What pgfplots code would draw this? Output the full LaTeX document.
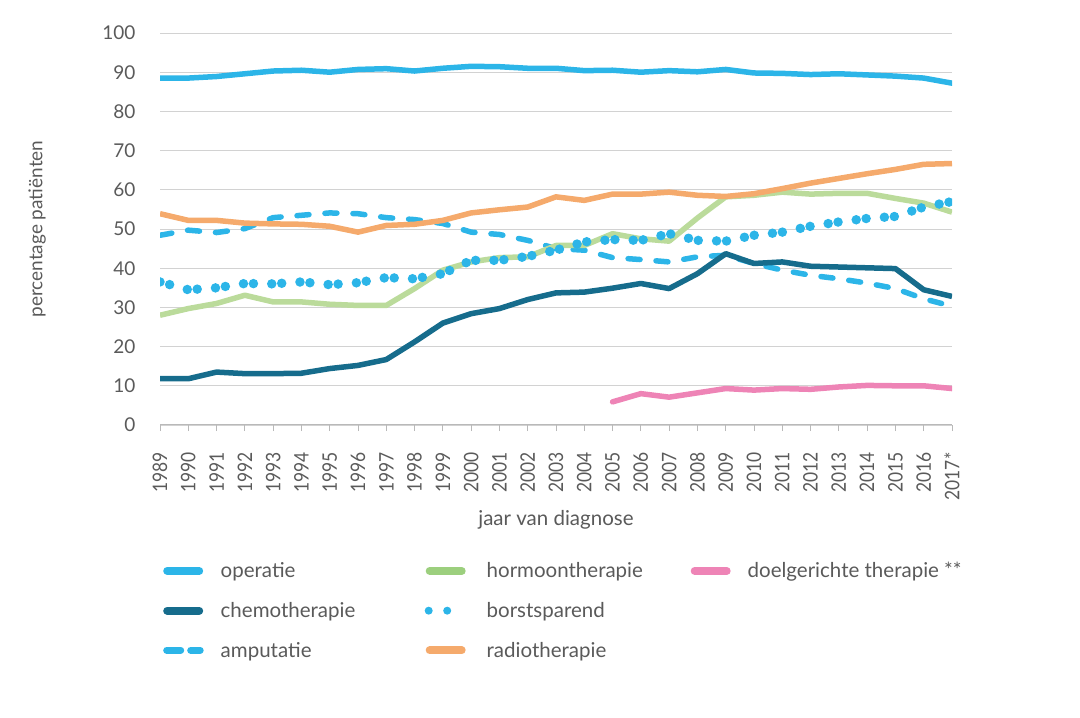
\documentclass[border=0pt]{standalone}
\usepackage{fontspec}
\setmainfont{Lato}
\usepackage{graphicx}
\usepackage{pgfplots}
\pgfplotsset{compat=1.18}
\definecolor{opblue}{HTML}{2CB5E8}
\definecolor{chemo}{HTML}{166C8C}
\definecolor{hormo}{HTML}{BBDB9B}
\definecolor{hormoleg}{HTML}{9CCF7E}
\definecolor{radio}{HTML}{F5AA6C}
\definecolor{doel}{HTML}{EE84B6}
\definecolor{txt}{HTML}{5A5A5A}
\newcommand{\lent}[1]{\makebox[221pt][l]{\hspace{17pt}#1}}
\newcommand{\xt}[1]{\scalebox{0.87}[1]{#1}\hspace*{18pt}}
\begin{document}
\begin{tikzpicture}
\useasboundingbox (0,0) rectangle (1080pt,718pt);
\begin{axis}[
  at={(160pt,293pt)}, anchor=south west,
  scale only axis, width=792pt, height=392pt,
  xmin=1989, xmax=2017, ymin=0, ymax=100,
  xtick={1989,...,2017},
  xticklabels={\xt{1989},\xt{1990},\xt{1991},\xt{1992},\xt{1993},\xt{1994},\xt{1995},\xt{1996},\xt{1997},\xt{1998},\xt{1999},\xt{2000},\xt{2001},\xt{2002},\xt{2003},\xt{2004},\xt{2005},\xt{2006},\xt{2007},\xt{2008},\xt{2009},\xt{2010},\xt{2011},\xt{2012},\xt{2013},\xt{2014},\xt{2015},\xt{2016},\xt{2017*}},
  ytick={0,10,...,100},
  /pgf/number format/assume math mode=true,
  axis x line*=bottom, axis y line*=left,
  y axis line style={draw=none},
  ytick style={draw=none},
  x axis line style={draw=gray!55, line width=1pt},
  xtick style={draw=gray!55, line width=0.8pt},
  xtick align=outside, major tick length=6pt,
  ymajorgrids,
  major grid style={draw=gray!35, line width=0.9pt},
  xticklabel style={font=\fontsize{20}{22}\selectfont, text=txt, rotate=90, anchor=east},
  yticklabel style={font=\fontsize{19}{22}\selectfont, text=txt, xshift=-21pt},
  xlabel={jaar van diagnose},
  ylabel={percentage patiënten},
  xlabel style={font=\fontsize{20.5}{24}\selectfont, text=txt, at={(axis description cs:0.5,-0.243)}, anchor=center},
  ylabel style={font=\fontsize{19}{22}\selectfont, text=txt, at={(axis description cs:-0.155,0.5)}, anchor=center, rotate=0},
  legend columns=3,
  legend cell align=left,
  legend style={at={(0,-0.345)}, anchor=north west, draw=none, fill=none,
    font=\fontsize{20.5}{24}\selectfont, text=txt, row sep=23pt, column sep=0pt,
    nodes={inner sep=0pt}},
  legend image code/.code={\draw[#1] (4pt,0pt) -- (36pt,0pt);},
  line join=round,
]
% legend (row-wise)
\addlegendimage{opblue, line width=8pt, line cap=round}
\addlegendentry{\lent{operatie}}
\addlegendimage{hormoleg, line width=8pt, line cap=round}
\addlegendentry{\lent{hormoontherapie}}
\addlegendimage{doel, line width=8pt, line cap=round}
\addlegendentry{\lent{doelgerichte therapie **}}
\addlegendimage{chemo, line width=8pt, line cap=round}
\addlegendentry{\lent{chemotherapie}}
\addlegendimage{legend image code/.code={\draw[opblue, line width=8pt, line cap=round, dash pattern=on 0pt off 18.5pt] (3pt,0pt) -- (40pt,0pt);}}
\addlegendentry{\lent{borstsparend}}
\addlegendimage{empty legend}
\addlegendentry{}
\addlegendimage{legend image code/.code={\draw[opblue, line width=7pt, line cap=round, dash pattern=on 14pt off 10pt] (3.5pt,0pt) -- (37pt,0pt);}}
\addlegendentry{\lent{amputatie}}
\addlegendimage{radio, line width=8pt, line cap=round}
\addlegendentry{\lent{radiotherapie}}

\addplot[opblue, line width=5.5pt, line cap=round, forget plot] coordinates {
(1989,88.5)(1990,88.5)(1991,88.9)(1992,89.6)(1993,90.3)(1994,90.5)(1995,90.0)(1996,90.7)(1997,90.9)(1998,90.3)(1999,91.0)(2000,91.5)(2001,91.4)(2002,91.0)(2003,91.0)(2004,90.4)(2005,90.5)(2006,90.0)(2007,90.4)(2008,90.1)(2009,90.7)(2010,89.8)(2011,89.7)(2012,89.4)(2013,89.6)(2014,89.3)(2015,89.0)(2016,88.5)(2017,87.2)};
\addplot[opblue, line width=5.5pt, line cap=round, dash pattern=on 12pt off 16pt, forget plot] coordinates {
(1989,48.4)(1990,49.7)(1991,49.1)(1992,50.1)(1993,52.9)(1994,53.5)(1995,54.1)(1996,53.9)(1997,52.9)(1998,52.4)(1999,51.4)(2000,49.2)(2001,48.6)(2002,47.1)(2003,45.0)(2004,44.6)(2005,42.7)(2006,42.2)(2007,41.6)(2008,42.9)(2009,43.3)(2010,41.2)(2011,39.5)(2012,38.2)(2013,37.3)(2014,36.2)(2015,34.8)(2016,32.2)(2017,30.3)};
\addplot[chemo, line width=5.5pt, forget plot] coordinates {
(1989,11.8)(1990,11.8)(1991,13.5)(1992,13.1)(1993,13.1)(1994,13.2)(1995,14.4)(1996,15.2)(1997,16.7)(1998,21.2)(1999,26.0)(2000,28.4)(2001,29.7)(2002,32.0)(2003,33.7)(2004,33.9)(2005,34.9)(2006,36.1)(2007,34.8)(2008,38.6)(2009,43.7)(2010,41.2)(2011,41.6)(2012,40.5)(2013,40.3)(2014,40.1)(2015,39.9)(2016,34.5)(2017,32.8)};
\addplot[hormo, line width=5.5pt, forget plot] coordinates {
(1989,28.0)(1990,29.7)(1991,31.0)(1992,33.1)(1993,31.4)(1994,31.4)(1995,30.8)(1996,30.5)(1997,30.5)(1998,34.8)(1999,39.5)(2000,41.6)(2001,42.7)(2002,42.9)(2003,45.8)(2004,45.8)(2005,48.8)(2006,47.5)(2007,46.9)(2008,52.8)(2009,58.2)(2010,58.6)(2011,59.4)(2012,58.9)(2013,59.1)(2014,59.1)(2015,57.8)(2016,56.6)(2017,54.3)};
\addplot[opblue, line width=9.5pt, line cap=round, dash pattern=on 0pt off 10pt on 0pt off 18.3pt, forget plot] coordinates {
(1989,36.5)(1990,34.5)(1991,35.0)(1992,36.1)(1993,36.0)(1994,36.5)(1995,35.8)(1996,36.3)(1997,37.6)(1998,37.3)(1999,38.6)(2000,42.0)(2001,42.0)(2002,43.0)(2003,44.6)(2004,46.7)(2005,47.3)(2006,47.1)(2007,48.8)(2008,47.1)(2009,46.9)(2010,48.4)(2011,49.2)(2012,50.7)(2013,51.8)(2014,52.7)(2015,53.2)(2016,55.6)(2017,57.0)};
\addplot[radio, line width=5.5pt, forget plot] coordinates {
(1989,53.9)(1990,52.2)(1991,52.2)(1992,51.5)(1993,51.3)(1994,51.2)(1995,50.7)(1996,49.2)(1997,50.9)(1998,51.2)(1999,52.2)(2000,54.1)(2001,54.9)(2002,55.6)(2003,58.2)(2004,57.3)(2005,58.9)(2006,58.9)(2007,59.4)(2008,58.6)(2009,58.3)(2010,59.0)(2011,60.3)(2012,61.7)(2013,62.9)(2014,64.1)(2015,65.2)(2016,66.5)(2017,66.7)};
\addplot[doel, line width=5.5pt, line cap=round, forget plot] coordinates {
(2005,5.9)(2006,8.0)(2007,7.1)(2008,8.2)(2009,9.3)(2010,8.9)(2011,9.3)(2012,9.1)(2013,9.7)(2014,10.1)(2015,10.0)(2016,10.0)(2017,9.3)};
\end{axis}
\end{tikzpicture}
\end{document}
